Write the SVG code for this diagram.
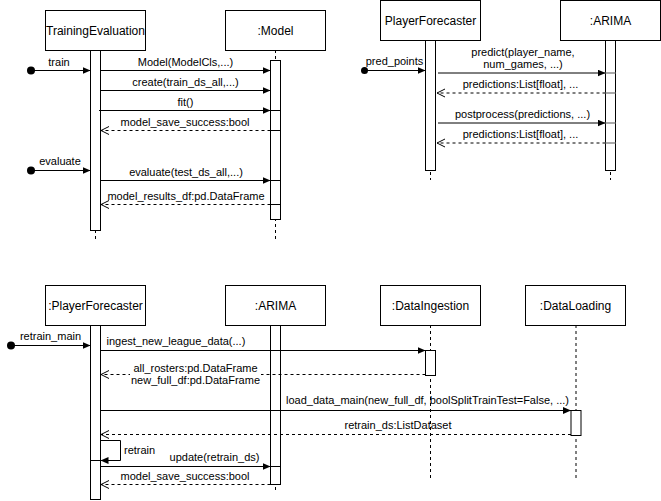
<svg xmlns="http://www.w3.org/2000/svg" width="661" height="501" viewBox="0 0 661 501">
  <defs>
    <style>
      .box { fill: #fff; stroke: #000; stroke-width: 1; }
      .bar { fill: #fff; stroke: #000; stroke-width: 1; }
      .life { fill: none; stroke: #000; stroke-width: 1; stroke-dasharray: 3 3; }
      .msg { fill: none; stroke: #000; stroke-width: 1; marker-end: url(#block); }
      .ret { fill: none; stroke: #000; stroke-width: 1; stroke-dasharray: 3 3; marker-end: url(#open); }
      .tick { fill: none; stroke: #000; stroke-width: 1; }
      .grey { fill: none; stroke: #8c8c8c; stroke-width: 1.5; }
      .title { font-family: "Liberation Sans", Arial, Helvetica, sans-serif; font-size: 12px; text-anchor: middle; fill: #000; }
      .lbl { font-family: "Liberation Sans", Arial, Helvetica, sans-serif; font-size: 11px; text-anchor: middle; fill: #000; }
      .start { text-anchor: start; }
    </style>
    <marker id="block" markerUnits="userSpaceOnUse" markerWidth="9" markerHeight="8" refX="8" refY="3.5" orient="auto">
      <path d="M0,0 L8,3.5 L0,7 z" fill="#000"/>
    </marker>
    <marker id="open" markerUnits="userSpaceOnUse" markerWidth="10" markerHeight="10" refX="8.5" refY="4.5" orient="auto">
      <path d="M0.5,0.5 L8.5,4.5 L0.5,8.5" fill="none" stroke="#000" stroke-width="1"/>
    </marker>
  </defs>
  <rect width="661" height="501" fill="#fff"/>

  <!-- Sequence 1: training and evaluation -->
  <g id="training-evaluation">
    <line class="life" x1="95.5" y1="50" x2="95.5" y2="240"/>
    <rect class="box" x="45.5" y="10.5" width="100" height="40"/>
    <text class="title" x="95.5" y="34.5">TrainingEvaluation</text>
    <rect class="bar" x="90.5" y="50.5" width="10" height="180"/>
  </g>
  <g id="model">
    <line class="life" x1="275.5" y1="50" x2="275.5" y2="240"/>
    <rect class="box" x="225.5" y="10.5" width="100" height="40"/>
    <text class="title" x="275.5" y="34.5">:Model</text>
    <rect class="bar" x="270.5" y="60.5" width="10" height="159"/>
  </g>

  <!-- Sequence 2: forecasting -->
  <g id="player-forecaster">
    <line class="life" x1="430.5" y1="40" x2="430.5" y2="180"/>
    <rect class="box" x="380.5" y="0.5" width="100" height="40"/>
    <text class="title" x="430.5" y="24.5">PlayerForecaster</text>
    <rect class="bar" x="425.5" y="40.5" width="10" height="130"/>
  </g>
  <g id="arima">
    <line class="life" x1="610.5" y1="40" x2="610.5" y2="180"/>
    <rect class="box" x="560.5" y="0.5" width="100" height="40"/>
    <text class="title" x="610.5" y="24.5">:ARIMA</text>
    <rect class="bar" x="605.5" y="40.5" width="10" height="130"/>
  </g>

  <!-- Sequence 3: retraining -->
  <g id="player-forecaster-2">
    <rect class="box" x="45.5" y="285.5" width="100" height="40"/>
    <text class="title" x="95.5" y="309.5">:PlayerForecaster</text>
    <rect class="bar" x="90.5" y="325.5" width="10" height="174"/>
  </g>
  <g id="arima-2">
    <line class="life" x1="275.5" y1="325" x2="275.5" y2="492"/>
    <rect class="box" x="225.5" y="285.5" width="100" height="40"/>
    <text class="title" x="275.5" y="309.5">:ARIMA</text>
    <rect class="bar" x="270.5" y="325.5" width="10" height="159"/>
  </g>
  <g id="data-ingestion">
    <line class="life" x1="430.5" y1="325" x2="430.5" y2="478"/>
    <rect class="box" x="380.5" y="285.5" width="100" height="40"/>
    <text class="title" x="430.5" y="309.5">:DataIngestion</text>
    <rect class="bar" x="425.5" y="350.5" width="10" height="25"/>
  </g>
  <g id="data-loading">
    <line class="life" x1="576" y1="325" x2="576" y2="478"/>
    <rect class="box" x="525.5" y="285.5" width="100" height="40"/>
    <text class="title" x="575.5" y="309.5">:DataLoading</text>
    <rect class="bar" x="571" y="410.5" width="10" height="25"/>
  </g>

  <g id="connectors">
    <!-- training -->
    <circle cx="31" cy="70.5" r="4"/>
    <line class="msg" x1="31" y1="70.5" x2="90.5" y2="70.5"/>
    <text class="lbl" x="59" y="66">train</text>

    <line class="msg" x1="100.5" y1="70.5" x2="270.5" y2="70.5"/>
    <text class="lbl" x="185.5" y="66">Model(ModelCls,...)</text>
    <line class="msg" x1="100.5" y1="90.5" x2="270.5" y2="90.5"/>
    <text class="lbl" x="185.5" y="86">create(train_ds_all,...)</text>
    <line class="msg" x1="99" y1="110.5" x2="270.5" y2="110.5"/>
    <line class="tick" x1="270.5" y1="110.5" x2="280.5" y2="110.5"/>
    <text class="lbl" x="185.5" y="106">fit()</text>
    <line class="ret" x1="270.5" y1="130.5" x2="101" y2="130.5"/>
    <line class="tick" x1="270.5" y1="130.5" x2="280.5" y2="130.5"/>
    <text class="lbl" x="185" y="125.5">model_save_success:bool</text>

    <!-- evaluation -->
    <circle cx="31" cy="170.5" r="4"/>
    <line class="msg" x1="31" y1="170.5" x2="90.5" y2="170.5"/>
    <text class="lbl" x="60" y="165">evaluate</text>
    <line class="msg" x1="100.5" y1="180.5" x2="270.5" y2="180.5"/>
    <line class="tick" x1="270.5" y1="180.5" x2="280.5" y2="180.5"/>
    <text class="lbl" x="186" y="176">evaluate(test_ds_all,...)</text>
    <line class="ret" x1="270.5" y1="204.5" x2="101" y2="204.5"/>
    <line class="tick" x1="270.5" y1="204.5" x2="280.5" y2="204.5"/>
    <text class="lbl" x="186" y="199.5">model_results_df:pd.DataFrame</text>

    <!-- forecasting -->
    <circle cx="364.5" cy="70.5" r="3.5"/>
    <line class="msg" x1="364.5" y1="70.5" x2="425.5" y2="70.5"/>
    <text class="lbl" x="394.5" y="64.5">pred_points</text>

    <line class="msg" x1="438" y1="73" x2="605.5" y2="73"/>
    <line class="grey" x1="605.5" y1="73" x2="615.5" y2="73"/>
    <text class="lbl" x="523" y="56">predict(player_name,</text>
    <text class="lbl" x="523" y="68">num_games, ...)</text>
    <line class="ret" x1="605.5" y1="93" x2="437" y2="93"/>
    <line class="grey" x1="605.5" y1="93" x2="615.5" y2="93"/>
    <text class="lbl" x="520.5" y="88">predictions:List[float], ...</text>
    <line class="msg" x1="438" y1="123" x2="605.5" y2="123"/>
    <line class="grey" x1="605.5" y1="123" x2="615.5" y2="123"/>
    <text class="lbl" x="522.5" y="118">postprocess(predictions, ...)</text>
    <line class="ret" x1="605.5" y1="143" x2="437" y2="143"/>
    <line class="grey" x1="605.5" y1="143" x2="615.5" y2="143"/>
    <text class="lbl" x="520.5" y="138">predictions:List[float], ...</text>

    <!-- retraining -->
    <circle cx="11" cy="345.5" r="4"/>
    <line class="msg" x1="11" y1="345.5" x2="90.5" y2="345.5"/>
    <text class="lbl" x="50.5" y="340">retrain_main</text>

    <line class="msg" x1="100.5" y1="350.5" x2="425.5" y2="350.5"/>
    <text class="lbl start" x="106.5" y="345">ingest_new_league_data(...)</text>
    <line class="ret" x1="425.5" y1="374.5" x2="101" y2="374.5"/>
    <rect x="130" y="363" width="131" height="24" fill="#fff"/>
    <text class="lbl" x="195.5" y="372">all_rosters:pd.DataFrame</text>
    <text class="lbl" x="195.5" y="384">new_full_df:pd.DataFrame</text>

    <line class="msg" x1="100.5" y1="410.5" x2="571" y2="410.5"/>
    <text class="lbl" x="427.5" y="404">load_data_main(new_full_df, boolSplitTrainTest=False, ...)</text>
    <line class="ret" x1="571" y1="434.5" x2="101" y2="434.5"/>
    <text class="lbl" x="398" y="429">retrain_ds:ListDataset</text>

    <polyline class="msg" points="100.5,440.5 120.5,440.5 120.5,460.5 100.5,460.5"/>
    <line class="tick" x1="90.5" y1="460.5" x2="100.5" y2="460.5"/>
    <text class="lbl start" x="124" y="454">retrain</text>

    <line class="msg" x1="100.5" y1="466.5" x2="270.5" y2="466.5"/>
    <line class="tick" x1="270.5" y1="466.5" x2="280.5" y2="466.5"/>
    <text class="lbl" x="214.5" y="461">update(retrain_ds)</text>
    <line class="ret" x1="270.5" y1="484.5" x2="101" y2="484.5"/>
    <text class="lbl" x="185" y="479.5">model_save_success:bool</text>
  </g>
</svg>
